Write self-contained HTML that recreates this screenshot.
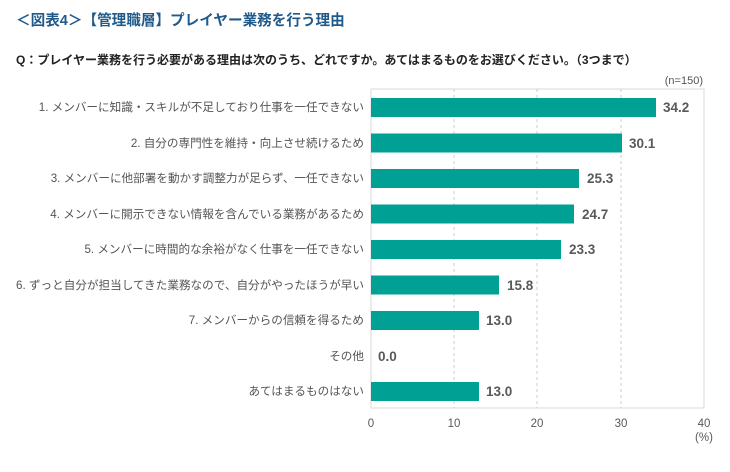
<!DOCTYPE html>
<html><head><meta charset="utf-8"><style>
body{margin:0;background:#fff;width:730px;height:467px;overflow:hidden;font-family:"Liberation Sans","Noto Sans CJK JP",sans-serif}
</style></head><body>
<svg width="730" height="467" xmlns="http://www.w3.org/2000/svg" style="font-family:'Liberation Sans','Noto Sans CJK JP',sans-serif">
<text x="16" y="25" font-size="14.6" font-weight="bold" fill="#1f5a8a">＜図表4＞【管理職層】プレイヤー業務を行う理由</text>
<text x="16" y="64" font-size="12" font-weight="bold" fill="#222">Q：プレイヤー業務を行う必要がある理由は次のうち、どれですか。あてはまるものをお選びください。（3つまで）</text>
<text x="703" y="84" font-size="11" fill="#555" text-anchor="end">(n=150)</text>
<rect x="371" y="89" width="333" height="319" fill="none" stroke="#d9d9d9"/>
<g stroke="#ccc" stroke-dasharray="3,3">
<line x1="454" y1="89" x2="454" y2="408"/><line x1="537" y1="89" x2="537" y2="408"/><line x1="621" y1="89" x2="621" y2="408"/>
</g>
<g font-size="11.5" fill="#595959" text-anchor="middle">
<text x="371" y="427">0</text><text x="454" y="427">10</text><text x="537" y="427">20</text><text x="621" y="427">30</text><text x="704" y="427">40</text><text x="704" y="441">(%)</text>
</g>
<g fill="#00a095">
<rect x="371" y="98" width="285" height="19"/>
<rect x="371" y="133.5" width="251" height="19"/>
<rect x="371" y="169" width="208" height="19"/>
<rect x="371" y="204.5" width="203" height="19"/>
<rect x="371" y="240" width="190" height="19"/>
<rect x="371" y="275.5" width="128" height="19"/>
<rect x="371" y="311" width="108" height="19"/>
<rect x="371" y="382" width="108" height="19"/>
</g>
<g font-size="13.5" font-weight="bold" fill="#595959">
<text x="663" y="112">34.2</text><text x="629" y="148">30.1</text><text x="587" y="183">25.3</text><text x="582" y="219">24.7</text><text x="569" y="254">23.3</text><text x="507" y="290">15.8</text><text x="486" y="325">13.0</text><text x="378" y="361">0.0</text><text x="486" y="396">13.0</text>
</g>
<g font-size="11.6" fill="#555" text-anchor="end">
<text x="364" y="111">1. メンバーに知識・スキルが不足しており仕事を一任できない</text>
<text x="364" y="147">2. 自分の専門性を維持・向上させ続けるため</text>
<text x="364" y="182">3. メンバーに他部署を動かす調整力が足らず、一任できない</text>
<text x="364" y="218">4. メンバーに開示できない情報を含んでいる業務があるため</text>
<text x="364" y="253">5. メンバーに時間的な余裕がなく仕事を一任できない</text>
<text x="364" y="289">6. ずっと自分が担当してきた業務なので、自分がやったほうが早い</text>
<text x="364" y="324">7. メンバーからの信頼を得るため</text>
<text x="364" y="360">その他</text>
<text x="364" y="395">あてはまるものはない</text>
</g>
</svg>
</body></html>
